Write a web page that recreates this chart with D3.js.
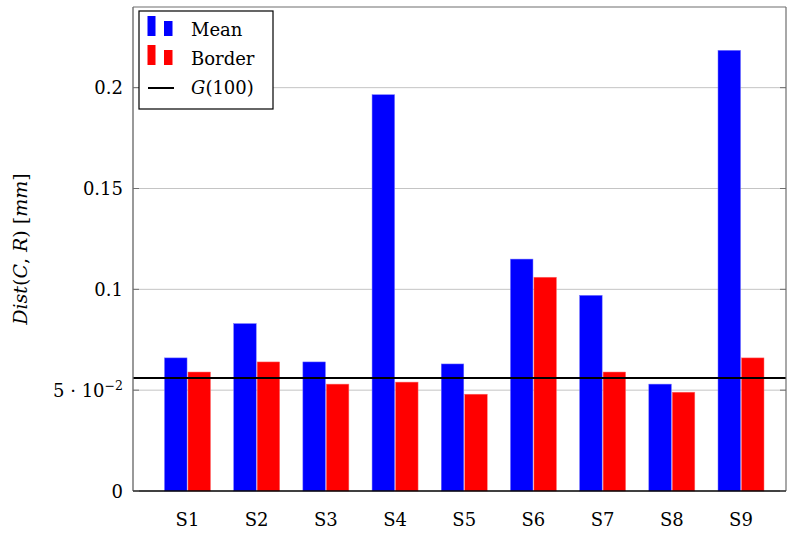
<!DOCTYPE html>
<html>
<head>
<meta charset="utf-8">
<script src="https://cdn.jsdelivr.net/npm/d3@7"></script>
<style>
  html, body { margin: 0; padding: 0; background: #fff; }
  svg { display: block; }
</style>
</head>
<body>
<svg id="chart" width="787" height="534" font-family="DejaVu Serif"></svg>
<script>
// Distance per scene: mean over all points vs. border points
const categories = ["S1", "S2", "S3", "S4", "S5", "S6", "S7", "S8", "S9"];
const seriesNames = ["Mean", "Border"];
const meanValues = [0.066, 0.083, 0.064, 0.1965, 0.063, 0.115, 0.097, 0.053, 0.2185];
const borderValues = [0.059, 0.064, 0.053, 0.054, 0.048, 0.106, 0.059, 0.049, 0.066];
const seriesColors = ["#0000ff", "#ff0000"];
const referenceLevel = 0.056;   // G(100)
const yTicks = [0, 0.05, 0.1, 0.15, 0.2];
const yMax = 0.24;

const FS = 18;
const svg = d3.select("#chart");
const plot = { left: 133, right: 786, top: 7, bottom: 491 };

const y = d3.scaleLinear().domain([0, yMax]).range([plot.bottom, plot.top]);
const x = d3.scalePoint().domain(categories).range([187.5, 741]);
const xInner = d3.scaleBand().domain(seriesNames).range([-23, 23]).paddingInner(0.04);

// grid lines
svg.append("g").selectAll("line").data(yTicks.filter(d => d > 0)).join("line")
  .attr("x1", plot.left).attr("x2", plot.right)
  .attr("y1", d => y(d)).attr("y2", d => y(d))
  .attr("stroke", "#c4c4c4").attr("stroke-width", 1);

// bars
const rows = categories.map((c, i) => ({ cat: c, values: [meanValues[i], borderValues[i]] }));
const groups = svg.append("g").selectAll("g").data(rows).join("g")
  .attr("transform", d => `translate(${x(d.cat)},0)`);
groups.selectAll("rect").data(d => d.values.map((v, k) => ({ name: seriesNames[k], v, k }))).join("rect")
  .attr("x", d => xInner(d.name))
  .attr("width", xInner.bandwidth())
  .attr("y", d => y(d.v))
  .attr("height", d => y(0) - y(d.v))
  .attr("fill", d => seriesColors[d.k])
  .attr("stroke", d => d.k === 0 ? "#7070ff" : "#ff7070")
  .attr("stroke-width", 0.5);

// reference line
svg.append("line")
  .attr("x1", plot.left).attr("x2", plot.right)
  .attr("y1", y(referenceLevel)).attr("y2", y(referenceLevel))
  .attr("stroke", "#000").attr("stroke-width", 2);

// frame
svg.append("line").attr("x1", plot.left).attr("x2", plot.right)
  .attr("y1", plot.top).attr("y2", plot.top).attr("stroke", "#6e6e6e").attr("stroke-width", 1.2);
svg.append("line").attr("x1", plot.left).attr("x2", plot.left)
  .attr("y1", plot.top).attr("y2", plot.bottom).attr("stroke", "#6e6e6e").attr("stroke-width", 1.4);
svg.append("line").attr("x1", plot.right).attr("x2", plot.right)
  .attr("y1", plot.top).attr("y2", plot.bottom).attr("stroke", "#6e6e6e").attr("stroke-width", 1.2);
svg.append("line").attr("x1", plot.left).attr("x2", plot.right)
  .attr("y1", plot.bottom).attr("y2", plot.bottom).attr("stroke", "#000").attr("stroke-width", 1.6);

// y ticks
const yAxis = svg.append("g");
yAxis.selectAll("line.l").data(yTicks).join("line").attr("class", "l")
  .attr("x1", plot.left).attr("x2", plot.left + 6)
  .attr("y1", d => y(d)).attr("y2", d => y(d))
  .attr("stroke", "#6e6e6e").attr("stroke-width", 1);
yAxis.selectAll("line.r").data(yTicks).join("line").attr("class", "r")
  .attr("x1", plot.right - 6).attr("x2", plot.right)
  .attr("y1", d => y(d)).attr("y2", d => y(d))
  .attr("stroke", "#6e6e6e").attr("stroke-width", 1);

const tickText = yAxis.selectAll("text").data(yTicks).join("text")
  .attr("x", 123).attr("y", d => y(d) + 6.5)
  .attr("text-anchor", "end")
  .attr("font-size", FS);
tickText.each(function(d) {
  const t = d3.select(this);
  if (d === 0.05) {
    t.append("tspan").text("5 \u00B7 10");
    t.append("tspan").attr("dy", -7).attr("font-size", 12.5).text("\u22122");
  } else {
    t.text(d3.format("~g")(d));
  }
});

// x tick labels
svg.append("g").selectAll("text").data(categories).join("text")
  .attr("x", d => x(d)).attr("y", 526)
  .attr("text-anchor", "middle").attr("font-size", FS)
  .text(d => d);

// y axis title
const yTitle = svg.append("text")
  .attr("transform", `translate(27,249) rotate(-90)`)
  .attr("text-anchor", "middle").attr("font-size", 19);
[["Dist", true], ["(", false], ["C", true], [", ", false], ["R", true], [") [", false], ["mm", true], ["]", false]]
  .forEach(([s, it]) => yTitle.append("tspan").attr("font-style", it ? "italic" : "normal").text(s));

// legend
const legend = svg.append("g");
legend.append("rect").attr("x", 139).attr("y", 11).attr("width", 134).attr("height", 98)
  .attr("fill", "#fff").attr("stroke", "#000").attr("stroke-width", 1.2);
const legendItems = [
  { label: "Mean", color: seriesColors[0], type: "bar" },
  { label: "Border", color: seriesColors[1], type: "bar" },
  { label: "G(100)", color: "#000", type: "line" }
];
legendItems.forEach((it, i) => {
  const cy = 26 + i * 29;
  if (it.type === "bar") {
    legend.append("rect").attr("x", 147.5).attr("y", cy - 10).attr("width", 8).attr("height", 20).attr("fill", it.color);
    legend.append("rect").attr("x", 164).attr("y", cy - 5).attr("width", 8.5).attr("height", 15).attr("fill", it.color);
  } else {
    legend.append("line").attr("x1", 148).attr("x2", 174).attr("y1", cy + 4).attr("y2", cy + 4)
      .attr("stroke", it.color).attr("stroke-width", 2);
  }
  const t = legend.append("text").attr("x", 191).attr("y", cy + 10).attr("font-size", FS);
  if (it.type === "line") {
    t.append("tspan").attr("font-style", "italic").text("G");
    t.append("tspan").text("(100)");
  } else {
    t.text(it.label);
  }
});
</script>
</body>
</html>
